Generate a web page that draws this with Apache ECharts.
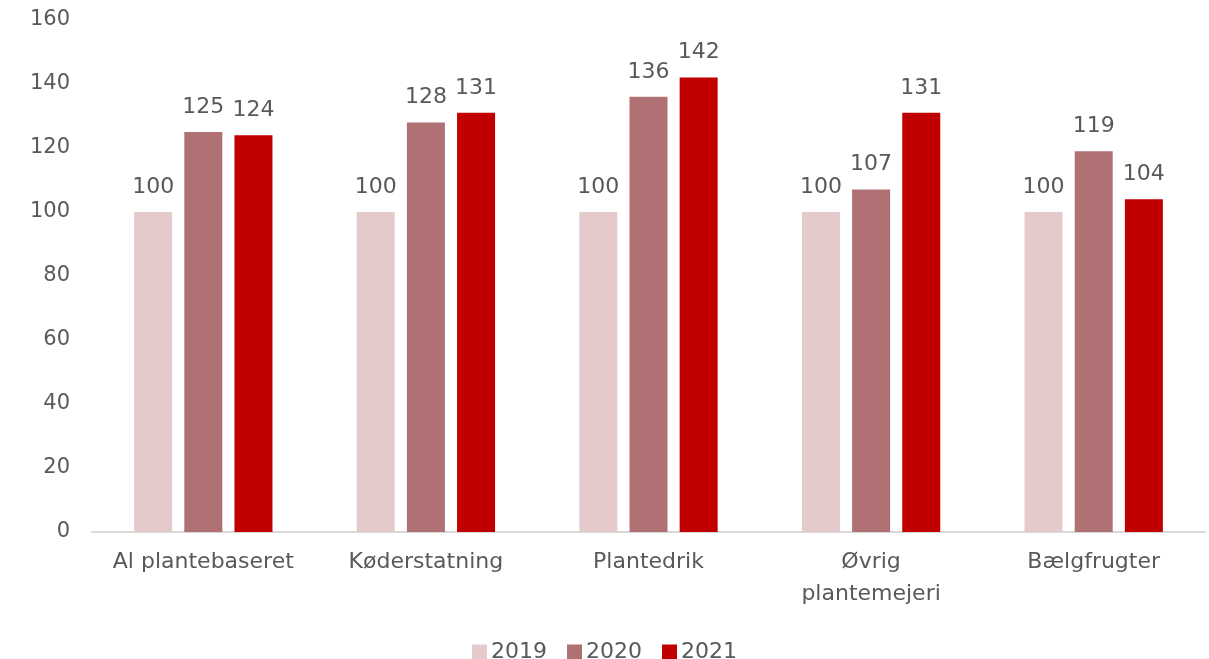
<!DOCTYPE html>
<html>
<head>
<meta charset="utf-8">
<title>Plantebaserede fødevarer, indeks 2019 = 100</title>
<script src="https://cdn.jsdelivr.net/npm/echarts@6/dist/echarts.min.js"></script>
<style>
  html, body { margin: 0; padding: 0; background: #ffffff; }
  #chart { width: 1209px; height: 659px; }
</style>
</head>
<body>
<div id="chart"></div>
<script>
// Kategorier og indeksværdier (2019 = 100)
const categories = ['Al plantebaseret', 'Køderstatning', 'Plantedrik', 'Øvrig\nplantemejeri', 'Bælgfrugter'];
const years = ['2019', '2020', '2021'];
const values2019 = [100, 100, 100, 100, 100];
const values2020 = [125, 128, 136, 107, 119];
const values2021 = [124, 131, 142, 131, 104];
const yTicks = { min: 0, max: 160, interval: 20 };

const colors = ['#e5cacc', '#b07175', '#c00000'];
const textColor = '#595959';
const fontFamily = '"DejaVu Sans", sans-serif';

const chart = echarts.init(document.getElementById('chart'));

const seriesData = [values2019, values2020, values2021];

chart.setOption({
  animation: false,
  textStyle: { fontFamily: fontFamily },
  color: colors,
  grid: { left: 92, right: 4, top: 20, bottom: 127, containLabel: false },
  legend: {
    data: years,
    top: 636,
    left: 'center',
    itemWidth: 15,
    itemHeight: 15,
    itemGap: 20,
    icon: 'rect',
    textStyle: { color: textColor, fontSize: 22, fontFamily: fontFamily, padding: [0, 0, 0, -1] }
  },
  xAxis: {
    type: 'category',
    data: categories,
    axisLine: { show: true, lineStyle: { color: '#d9d9d9', width: 2 } },
    axisTick: { show: false },
    axisLabel: {
      color: textColor,
      fontSize: 22,
      margin: 14,
      lineHeight: 32,
      interval: 0
    }
  },
  yAxis: {
    type: 'value',
    min: yTicks.min,
    max: yTicks.max,
    interval: yTicks.interval,
    axisLine: { show: false },
    axisTick: { show: false },
    splitLine: { show: false },
    axisLabel: { color: textColor, fontSize: 21, margin: 22 }
  },
  series: years.map((y, i) => ({
    name: y,
    type: 'bar',
    data: seriesData[i],
    barWidth: 38,
    barGap: '32%',
    label: {
      show: true,
      position: 'top',
      distance: 14,
      color: textColor,
      fontSize: 22,
      fontFamily: fontFamily
    }
  }))
});
</script>
</body>
</html>
